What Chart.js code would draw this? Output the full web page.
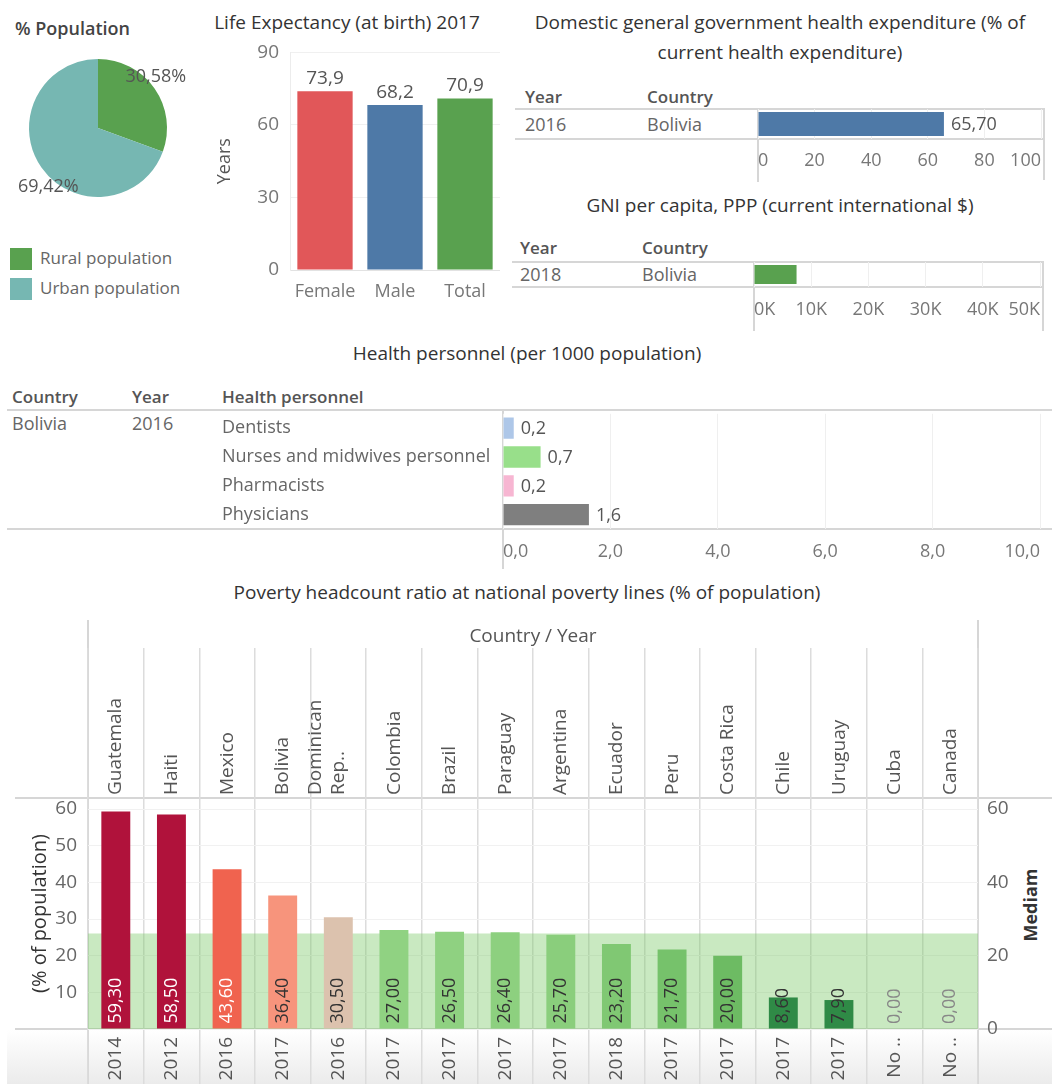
<!DOCTYPE html>
<html>
<head>
<meta charset="utf-8">
<script src="https://cdn.jsdelivr.net/npm/chart.js@4.4.1/dist/chart.umd.min.js"></script>
<style>
  body { margin: 0; background: #fff; }
  #page { position: relative; width: 1052px; height: 1084px; overflow: hidden; font-family: 'Open Sans', sans-serif; color: #666; }
  .t { position: absolute; white-space: nowrap; line-height: 24px; font-size: 18px; }
  .c { transform: translateX(-50%); }
  .h { font-weight: 600; color: #555; font-size: 17px; }
  .ttl { color: #333; font-size: 19px; }
  .ln { position: absolute; background: #d6d6d6; }
  canvas { position: absolute; }
  .sw { position: absolute; width: 22px; height: 22px; }
</style>
</head>
<body>
<div id="page">
  <!-- titles / table text -->
  <div class="t" style="left:15px;top:16px;font-size:18px;font-weight:600;color:#444">% Population</div>
  <div class="t ttl c" style="left:347px;top:10px">Life Expectancy (at birth) 2017</div>
  <div class="t ttl c" style="left:780px;top:10px">Domestic general government health expenditure (% of</div>
  <div class="t ttl c" style="left:780px;top:40px">current health expenditure)</div>
  <div class="t h" style="left:525px;top:85px">Year</div>
  <div class="t h" style="left:647px;top:85px">Country</div>
  <div class="t" style="left:525px;top:112px">2016</div>
  <div class="t" style="left:647px;top:112px">Bolivia</div>

  <div class="t ttl c" style="left:780px;top:193px">GNI per capita, PPP (current international $)</div>
  <div class="t h" style="left:520px;top:236px">Year</div>
  <div class="t h" style="left:642px;top:236px">Country</div>
  <div class="t" style="left:520px;top:262px">2018</div>
  <div class="t" style="left:642px;top:262px">Bolivia</div>

  <div id="legend"></div>

  <div class="t ttl c" style="left:527px;top:341px">Health personnel (per 1000 population)</div>
  <div class="t h" style="left:12px;top:385px">Country</div>
  <div class="t h" style="left:132px;top:385px">Year</div>
  <div class="t h" style="left:222px;top:385px">Health personnel</div>
  <div class="t" style="left:12px;top:411px">Bolivia</div>
  <div class="t" style="left:132px;top:411px">2016</div>

  <div class="t ttl c" style="left:527px;top:580px">Poverty headcount ratio at national poverty lines (% of population)</div>
  <div class="t" style="left:1030px;top:905px;font-weight:700;color:#333;transform:translate(-50%,-50%) rotate(-90deg)">Mediam</div>

  <!-- table rules -->
  <div class="ln" style="left:515px;top:108px;width:530px;height:2px"></div>
  <div class="ln" style="left:515px;top:138px;width:530px;height:2px"></div>
  <div class="ln" style="left:757px;top:108px;width:2px;height:74px"></div>
  <div class="ln" style="left:1043px;top:108px;width:2px;height:72px"></div>

  <div class="ln" style="left:512px;top:261px;width:532px;height:2px"></div>
  <div class="ln" style="left:512px;top:286px;width:532px;height:2px"></div>
  <div class="ln" style="left:753px;top:261px;width:2px;height:70px"></div>
  <div class="ln" style="left:1042px;top:261px;width:2px;height:70px"></div>

  <div class="ln" style="left:7px;top:409px;width:1045px;height:2px"></div>
  <div class="ln" style="left:7px;top:528px;width:1045px;height:2px"></div>
  <div class="ln" style="left:502px;top:409px;width:2px;height:160px"></div>

  <div style="position:absolute;left:7px;top:1030px;width:1045px;height:54px;background:linear-gradient(#fff,#ebebeb)"></div>
  <div class="ln" style="left:15px;top:797px;width:1037px;height:2px"></div>
  <div class="ln" style="left:15px;top:1028px;width:1037px;height:2px"></div>
  <div class="ln" style="left:87px;top:620px;width:2px;height:464px"></div>
  <div class="ln" style="left:977px;top:620px;width:2px;height:464px"></div>

  <canvas id="pie" width="200" height="180" style="left:0;top:40px"></canvas>
  <canvas id="life" width="300" height="280" style="left:200px;top:30px"></canvas>
  <canvas id="dom" width="352" height="90" style="left:700px;top:100px"></canvas>
  <canvas id="gni" width="352" height="80" style="left:700px;top:253px"></canvas>
  <canvas id="pers" width="840" height="170" style="left:212px;top:400px"></canvas>
  <canvas id="pov" width="1052" height="464" style="left:0;top:620px"></canvas>
</div>

<script>
// ---- data ----
const popLabels = ['Rural population', 'Urban population'];
const popValues = [30.58, 69.42];
const popColors = ['#59a14f', '#76b7b2'];

const lifeLabels = ['Female', 'Male', 'Total'];
const lifeValues = [73.9, 68.2, 70.9];
const lifeColors = ['#e15759', '#4e79a7', '#59a14f'];

const domLabels = ['2016 Bolivia'];
const domValues = [65.70];

const gniLabels = ['2018 Bolivia'];
const gniValues = [7440];

const persLabels = ['Dentists', 'Nurses and midwives personnel', 'Pharmacists', 'Physicians'];
const persValues = [0.2, 0.7, 0.2, 1.6];
const persColors = ['#aec7e8', '#98df8a', '#f7b6d2', '#7f7f7f'];

const povCountries = ['Guatemala', 'Haiti', 'Mexico', 'Bolivia', ['Dominican', 'Rep..'], 'Colombia', 'Brazil',
  'Paraguay', 'Argentina', 'Ecuador', 'Peru', 'Costa Rica', 'Chile', 'Uruguay', 'Cuba', 'Canada'];
const povYears = ['2014', '2012', '2016', '2017', '2016', '2017', '2017', '2017', '2017', '2018', '2017', '2017',
  '2017', '2017', 'No ..', 'No ..'];
const povValues = [59.3, 58.5, 43.6, 36.4, 30.5, 27.0, 26.5, 26.4, 25.7, 23.2, 21.7, 20.0, 8.6, 7.9, 0, 0];
const povColors = ['#b0123b', '#b0123b', '#f0634f', '#f7947c', '#dcc2ae', '#90d282', '#8fd181', '#8dd07f',
  '#8ace7c', '#80c873', '#76c26b', '#6dbb63', '#2f8a46', '#2f8a46', '#8ace7c', '#8ace7c'];

// median of the poverty values (reference band)
const povSorted = [...povValues].sort((a, b) => a - b);
const povMedian = (povSorted[povSorted.length / 2 - 1] + povSorted[povSorted.length / 2]) / 2;

function fmt(v, d){ return v.toFixed(d).replace('.', ','); }

Chart.defaults.font.family = "'Open Sans', sans-serif";
Chart.defaults.font.size = 18;
Chart.defaults.color = '#666';
Chart.defaults.animation = false;
Chart.defaults.responsive = false;
Chart.defaults.plugins.legend.display = false;
Chart.defaults.plugins.tooltip.enabled = false;

// legend for the pie
document.getElementById('legend').innerHTML = popLabels.map((l, i) =>
  `<div class="sw" style="left:10px;top:${248 + i * 30}px;background:${popColors[i]}"></div>` +
  `<div class="t" style="left:40px;top:${246 + i * 30}px;font-size:17px">${l}</div>`).join('');

// ---- % population pie ----
const pieLabelsPlugin = {
  id: 'pieLabels',
  afterDatasetsDraw(chart){
    const ctx = chart.ctx;
    ctx.save();
    ctx.font = "18px 'Open Sans'";
    ctx.fillStyle = '#555';
    ctx.textAlign = 'center';
    ctx.textBaseline = 'middle';
    chart.getDatasetMeta(0).data.forEach((arc, i) => {
      const a = arc.startAngle + 0.44 * (arc.endAngle - arc.startAngle);
      const r = arc.outerRadius * 1.12;
      ctx.fillText(fmt(popValues[i], 2) + '%', arc.x + Math.cos(a) * r, arc.y + Math.sin(a) * r);
    });
    ctx.restore();
  }
};

new Chart(document.getElementById('pie'), {
  type: 'pie',
  data: { labels: popLabels, datasets: [{ data: popValues, backgroundColor: popColors, borderWidth: 0 }] },
  options: { layout: { padding: { left: 29, right: 33, top: 19, bottom: 23 } } },
  plugins: [pieLabelsPlugin]
});

// ---- life expectancy ----
const valueAbove = {
  id: 'valueAbove',
  afterDatasetsDraw(chart){
    const ctx = chart.ctx;
    ctx.save();
    ctx.font = "19px 'Open Sans'";
    ctx.fillStyle = '#555';
    ctx.textAlign = 'center';
    ctx.textBaseline = 'bottom';
    chart.getDatasetMeta(0).data.forEach((bar, i) => {
      ctx.fillText(fmt(lifeValues[i], 1), bar.x, bar.y - 3);
    });
    ctx.restore();
  }
};

new Chart(document.getElementById('life'), {
  type: 'bar',
  data: { labels: lifeLabels, datasets: [{ data: lifeValues, backgroundColor: lifeColors, barPercentage: 0.79, categoryPercentage: 1 }] },
  options: {
    layout: { padding: 0 },
    scales: {
      x: {
        grid: { display: false, drawTicks: false },
        border: { color: '#e2e2e2' },
        ticks: { padding: 11, color: '#777' },
        afterFit: s => { s.height = 40; }
      },
      y: {
        min: 0, max: 90,
        ticks: { stepSize: 30, padding: 11, color: '#777', font: { size: 19 } },
        grid: { color: '#f0f0f0', drawTicks: false },
        border: { color: '#ececec' },
        title: { display: true, text: 'Years', color: '#555', font: { size: 18 }, padding: { top: 14, bottom: 0 } },
        afterFit: s => { s.width = 90; }
      }
    }
  },
  plugins: [valueAbove]
});

// ---- horizontal single bar helpers ----
function valueRight(values, digits, font){
  return {
    id: 'valueRight',
    afterDatasetsDraw(chart){
      const ctx = chart.ctx;
      ctx.save();
      ctx.font = font;
      ctx.fillStyle = '#555';
      ctx.textAlign = 'left';
      ctx.textBaseline = 'middle';
      chart.getDatasetMeta(0).data.forEach((bar, i) => {
        ctx.fillText(fmt(values[i], digits), bar.x + 7, bar.y + 1);
      });
      ctx.restore();
    }
  };
}

new Chart(document.getElementById('dom'), {
  type: 'bar',
  data: { labels: domLabels, datasets: [{ data: domValues, backgroundColor: '#4e79a7', barPercentage: 0.8, categoryPercentage: 1 }] },
  options: {
    indexAxis: 'y',
    layout: { padding: { left: 58, right: 8, top: 9, bottom: 0 } },
    scales: {
      x: {
        min: 0, max: 100,
        ticks: { stepSize: 20, align: 'inner', padding: 11, color: '#777' },
        grid: { color: '#efefef', drawTicks: false },
        border: { display: false },
        afterFit: s => { s.height = 51; }
      },
      y: { display: false }
    }
  },
  plugins: [valueRight(domValues, 2, "18px 'Open Sans'")]
});

new Chart(document.getElementById('gni'), {
  type: 'bar',
  data: { labels: gniLabels, datasets: [{ data: gniValues, backgroundColor: '#59a14f', barPercentage: 0.76, categoryPercentage: 1 }] },
  options: {
    indexAxis: 'y',
    layout: { padding: { left: 54, right: 9, top: 9, bottom: 0 } },
    scales: {
      x: {
        min: 0, max: 50000,
        ticks: { stepSize: 10000, align: 'inner', padding: 12, color: '#777', callback: v => (v / 1000) + 'K' },
        grid: { color: '#efefef', drawTicks: false },
        border: { display: false },
        afterFit: s => { s.height = 46; }
      },
      y: { display: false }
    }
  }
});

// ---- health personnel ----
new Chart(document.getElementById('pers'), {
  type: 'bar',
  data: { labels: persLabels, datasets: [{ data: persValues, backgroundColor: persColors, barPercentage: 0.74, categoryPercentage: 1 }] },
  options: {
    indexAxis: 'y',
    layout: { padding: { left: 10, right: 0, top: 10, bottom: 0 } },
    scales: {
      x: {
        min: 0, max: 10,
        ticks: { stepSize: 2, align: 'inner', padding: 12, color: '#777', callback: v => fmt(v, 1) },
        grid: { color: '#efefef', drawTicks: false },
        border: { display: false },
        afterFit: s => { s.height = 41; }
      },
      y: {
        ticks: { crossAlign: 'far', color: '#666' },
        grid: { display: false },
        border: { display: false },
        afterFit: s => { s.width = 281; }
      }
    }
  },
  plugins: [valueRight(persValues, 1, "18px 'Open Sans'")]
});

// ---- poverty headcount ----
const povertyDecor = {
  id: 'povertyDecor',
  beforeDatasetsDraw(chart){
    const { ctx, chartArea: a, scales: { y } } = chart;
    const top = y.getPixelForValue(povMedian);
    ctx.save();
    ctx.fillStyle = 'rgba(120,200,100,0.4)';
    ctx.fillRect(a.left, top, a.right - a.left, a.bottom - top);
    ctx.restore();
  },
  afterDatasetsDraw(chart){
    const ctx = chart.ctx;
    ctx.save();
    ctx.font = "18px 'Open Sans'";
    ctx.textAlign = 'left';
    ctx.textBaseline = 'middle';
    chart.getDatasetMeta(0).data.forEach((bar, i) => {
      const v = povValues[i];
      ctx.fillStyle = v === 0 ? '#888' : (v > 40 ? '#fff' : '#333');
      ctx.save();
      ctx.translate(bar.x, bar.base - 5);
      ctx.rotate(-Math.PI / 2);
      ctx.fillText(fmt(v, 2), 0, 0);
      ctx.restore();
    });
    ctx.restore();
  }
};

new Chart(document.getElementById('pov'), {
  type: 'bar',
  data: {
    labels: povYears,
    datasets: [{ data: povValues, backgroundColor: povColors, barPercentage: 0.52, categoryPercentage: 1, xAxisID: 'x', yAxisID: 'y' }]
  },
  options: {
    layout: { padding: 0 },
    scales: {
      x: {
        type: 'category', position: 'bottom', labels: povYears,
        ticks: { minRotation: 90, maxRotation: 90, autoSkip: false, padding: -47, color: '#555', font: { size: 19 } },
        grid: { offset: true, color: '#dcdcdc', tickLength: 55, lineWidth: 1.5 },
        border: { display: false },
        afterFit: s => { s.height = 55; }
      },
      x2: {
        type: 'category', position: 'top', labels: povCountries,
        ticks: { minRotation: 90, maxRotation: 90, autoSkip: false, padding: -147, labelOffset: 23, color: '#555', font: { size: 19 } },
        grid: { offset: true, color: '#dcdcdc', drawOnChartArea: false, tickLength: 150, lineWidth: 1.5 },
        border: { display: false },
        title: { display: true, text: 'Country / Year', color: '#555', font: { size: 19 }, padding: { top: 5, bottom: 0 } },
        afterFit: s => { s.height = 178; }
      },
      y: {
        position: 'left', min: 0, max: 63,
        ticks: { stepSize: 10, includeBounds: false, padding: 11, color: '#666', font: { size: 19 }, callback: v => v === 0 ? '' : v },
        grid: { color: '#f1f1f1', drawTicks: false },
        border: { display: false },
        title: { display: true, text: '(% of population)', color: '#333', font: { size: 20 }, padding: { top: 28, bottom: 0 } },
        afterFit: s => { s.width = 88; }
      },
      y2: {
        position: 'right', min: 0, max: 63,
        ticks: { stepSize: 20, includeBounds: false, padding: 9, color: '#666', font: { size: 19 } },
        grid: { drawOnChartArea: false, drawTicks: false },
        border: { display: false },
        afterFit: s => { s.width = 74; }
      }
    }
  },
  plugins: [povertyDecor]
});
</script>
</body>
</html>
